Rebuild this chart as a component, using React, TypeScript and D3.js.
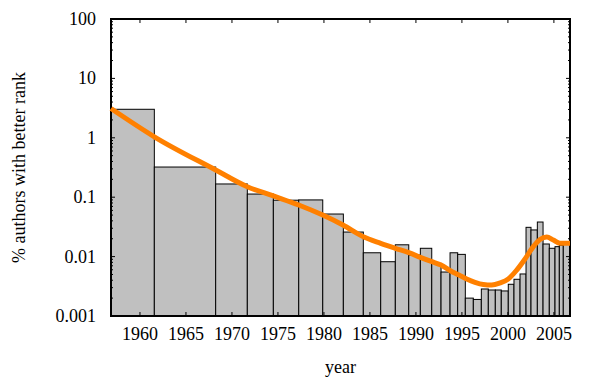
import React from "react";
import * as d3 from "d3";

// bin edges (year) of the histogram bars
const binEdges = [
  1956.85, 1961.56, 1968.23, 1971.67, 1974.5, 1977.26, 1979.87, 1982.11, 1984.28,
  1986.17, 1987.76, 1989.22, 1990.48, 1991.72, 1992.73, 1993.71, 1994.54, 1995.37,
  1996.24, 1997.11, 1997.87, 1998.63, 1999.28, 2000.04, 2000.66, 2001.32, 2001.97,
  2002.51, 2003.2, 2003.82, 2004.5, 2005.12, 2005.59, 2006.02, 2006.75,
];
// % authors with better rank, one per bar
const barValues = [
  3.02, 0.322, 0.167, 0.113, 0.089, 0.09, 0.0521, 0.0259, 0.0116, 0.0082, 0.0158,
  0.0106, 0.0138, 0.0077, 0.0055, 0.0116, 0.0109, 0.002, 0.0019, 0.00285, 0.00274,
  0.00274, 0.00264, 0.00342, 0.00415, 0.0051, 0.0311, 0.0281, 0.0382, 0.0163, 0.0138,
  0.0147, 0.0155, 0.0168,
];
// smoothed curve
const curveYears = [
  1956.85, 1961.56, 1968.23, 1971.67, 1974.5, 1977.26, 1979.87, 1982.07, 1984.28,
  1986.17, 1987.76, 1989.22, 1990.48, 1991.75, 1992.73, 1993.74, 1994.68, 1995.52,
  1996.42, 1997.33, 1998.24, 1999.14, 2000.04, 2000.96, 2001.86, 2002.76, 2003.49,
  2004.22, 2004.94, 2005.66, 2006.75,
];
const curveValues = [
  3.11, 1.04, 0.287, 0.15, 0.105, 0.074, 0.05, 0.034, 0.0216, 0.01675, 0.0138, 0.01164,
  0.00973, 0.0082, 0.00722, 0.00579, 0.0049, 0.0042, 0.00369, 0.00339, 0.00332, 0.0036,
  0.0042, 0.00594, 0.00912, 0.0147, 0.0194, 0.0214, 0.019, 0.0168, 0.0168,
];
const xTickValues = [1960, 1965, 1970, 1975, 1980, 1985, 1990, 1995, 2000, 2005];
const yTickValues = [0.001, 0.01, 0.1, 1, 10, 100];
const yTickLabels = ["0.001", "0.01", "0.1", "1", "10", "100"];

const W = 600;
const H = 380;
const L = 111;
const R = 570;
const T = 19;
const B = 316;
const textStyle = {
  fontFamily: '"Liberation Serif"',
  fontSize: "18px",
};

export default function App() {
  const x = d3.scaleLinear().domain([1956.85, 2006.75]).range([L, R]);
  const y = d3.scaleLog().domain([0.001, 100]).range([B, T]);

  const minor: number[] = [];
  for (let e = -3; e < 2; e++) {
    for (let m = 2; m <= 9; m++) minor.push(m * Math.pow(10, e));
  }

  const line = d3
    .line<number>()
    .x((_, i) => x(curveYears[i]))
    .y((v) => y(v))
    .curve(d3.curveMonotoneX);

  return (
    <svg
      width={W}
      height={H}
      style={{ position: "absolute", left: 0, top: 0, background: "#fff" }}
    >
      <rect x={0} y={0} width={W} height={H} fill="#fff" />
      {/* bars */}
      {barValues.map((v, i) => {
        const x0 = x(binEdges[i]);
        const x1 = x(binEdges[i + 1]);
        return (
          <rect
            key={i}
            x={x0}
            y={y(v)}
            width={x1 - x0}
            height={B - y(v)}
            fill="#c0c0c0"
            stroke="#000"
            strokeWidth={1}
          />
        );
      })}
      {/* frame */}
      <rect x={L} y={T} width={R - L} height={B - T} fill="none" stroke="#000" strokeWidth={2} />
      {/* x ticks */}
      {xTickValues.map((t) => (
        <g key={t}>
          <line x1={x(t)} x2={x(t)} y1={B} y2={B - 4} stroke="#000" strokeWidth={1} />
          <line x1={x(t)} x2={x(t)} y1={T} y2={T + 4} stroke="#000" strokeWidth={1} />
          <text x={x(t)} y={340} textAnchor="middle" style={textStyle} fill="#000">
            {t}
          </text>
        </g>
      ))}
      {/* y ticks */}
      {yTickValues.map((t, i) => (
        <g key={t}>
          <line x1={L} x2={L + 4} y1={y(t)} y2={y(t)} stroke="#000" strokeWidth={1} />
          <line x1={R} x2={R - 4} y1={y(t)} y2={y(t)} stroke="#000" strokeWidth={1} />
          <text x={96} y={y(t) + 6} textAnchor="end" style={textStyle} fill="#000">
            {yTickLabels[i]}
          </text>
        </g>
      ))}
      {minor.map((t) => (
        <g key={"m" + t}>
          <line x1={L} x2={L + 2} y1={y(t)} y2={y(t)} stroke="#000" strokeWidth={1} />
          <line x1={R} x2={R - 2} y1={y(t)} y2={y(t)} stroke="#000" strokeWidth={1} />
        </g>
      ))}
      {/* curve */}
      <path d={line(curveValues) || ""} fill="none" stroke="#ff8000" strokeWidth={5} />
      {/* axis labels */}
      <text x={(L + R) / 2} y={373} textAnchor="middle" style={textStyle} fill="#000">
        year
      </text>
      <text
        transform={`translate(25,${(T + B) / 2}) rotate(-90)`}
        textAnchor="middle"
        style={textStyle}
        fill="#000"
      >
        % authors with better rank
      </text>
    </svg>
  );
}
